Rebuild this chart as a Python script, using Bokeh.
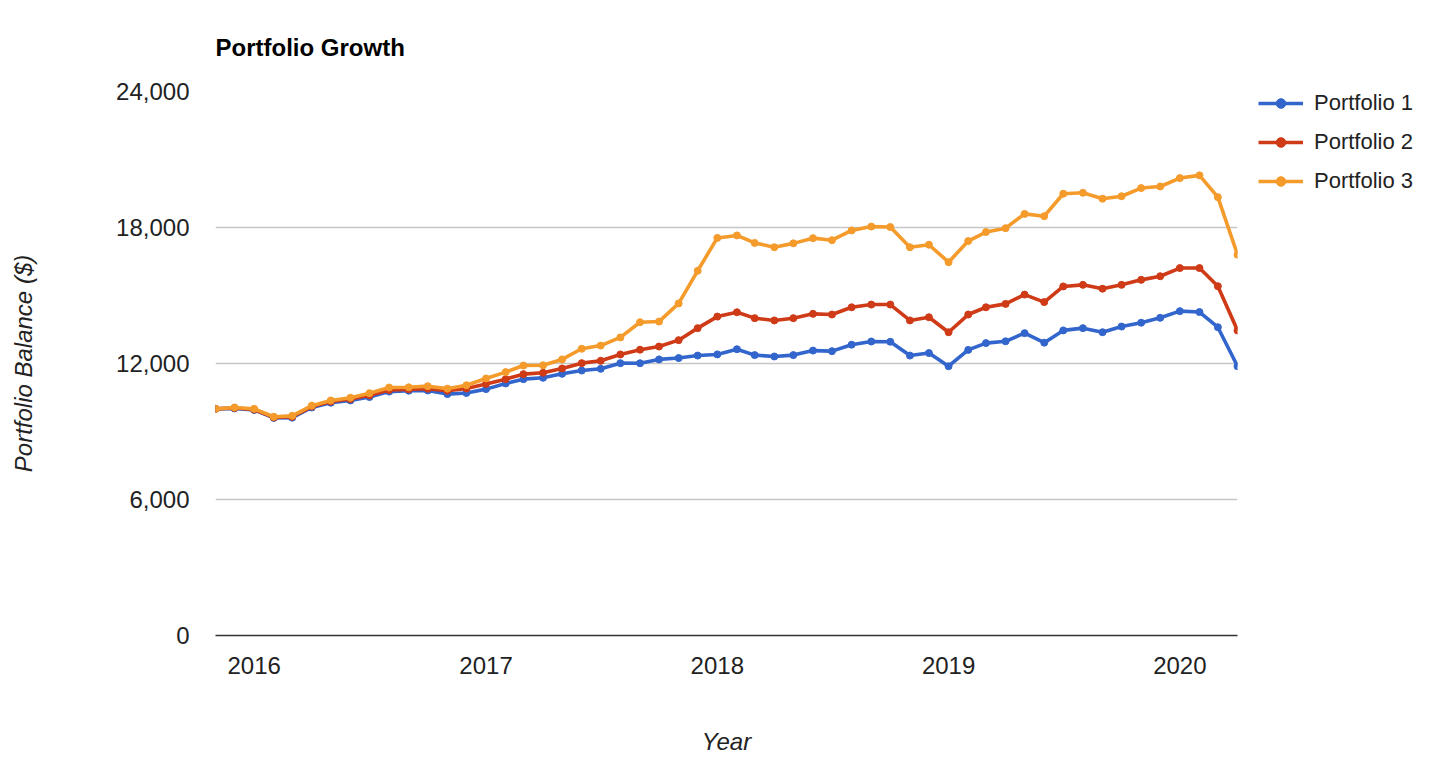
import pandas as pd
from bokeh.plotting import figure
from bokeh.models import (Range1d, FixedTicker, DatetimeTickFormatter, Legend, LegendItem,
                          NumeralTickFormatter)
from bokeh.embed import file_html
from bokeh.resources import INLINE

# ---- data -------------------------------------------------------------
months = pd.date_range(start="2015-11-01", periods=54, freq="MS")

portfolio_1 = [10000, 10020, 9950, 9600, 9610, 10060, 10270, 10370, 10520, 10760,
               10800, 10810, 10650, 10700, 10870, 11120, 11310, 11370, 11545, 11690,
               11765, 12015, 12010, 12180, 12240, 12350, 12400, 12630, 12370, 12310,
               12370, 12570, 12545, 12830, 12970, 12960, 12350, 12460, 11880, 12600,
               12900, 12980, 13340, 12920, 13460, 13560, 13380, 13630, 13800, 14015,
               14310, 14270, 13600, 11880]
portfolio_2 = [10000, 10040, 9970, 9620, 9650, 10100, 10320, 10430, 10600, 10830,
               10860, 10890, 10800, 10900, 11100, 11310, 11530, 11590, 11780, 12015,
               12120, 12400, 12610, 12750, 13030, 13560, 14070, 14260, 14000, 13900,
               14000, 14190, 14160, 14480, 14600, 14600, 13900, 14040, 13380, 14160,
               14480, 14630, 15040, 14710, 15400, 15470, 15300, 15470, 15690, 15850,
               16210, 16210, 15410, 13460]
portfolio_3 = [10000, 10060, 10000, 9650, 9690, 10140, 10370, 10490, 10690, 10940,
               10950, 11000, 10890, 11040, 11340, 11620, 11910, 11920, 12180, 12650,
               12790, 13150, 13820, 13850, 14650, 16090, 17540, 17650, 17320, 17130,
               17300, 17530, 17440, 17870, 18040, 18020, 17130, 17240, 16470, 17400,
               17800, 17970, 18600, 18500, 19490, 19530, 19270, 19380, 19740, 19810,
               20180, 20300, 19340, 16800]

series_names = ["Portfolio 1", "Portfolio 2", "Portfolio 3"]
series_values = [portfolio_1, portfolio_2, portfolio_3]
series_colors = ["#3366cc", "#cf3a17", "#f49b2c"]

year_ticks = ["2016-01-01", "2017-01-01", "2018-01-01", "2019-01-01", "2020-01-01"]
y_ticks = [0, 6000, 12000, 18000, 24000]

FONT = "Liberation Sans"

# ---- figure -----------------------------------------------------------
p = figure(frame_width=1022, frame_height=544, x_axis_type="datetime",
           output_backend="svg", toolbar_location=None,
           x_range=Range1d(months[0], months[-1]), y_range=Range1d(0, 24000),
           min_border_left=215, min_border_right=200, min_border_top=91,
           min_border_bottom=118, title="Portfolio Growth")
p.outline_line_color = None
p.background_fill_color = "white"

p.title.text_font = FONT
p.title.text_font_size = "24px"
p.title.text_font_style = "bold"
p.title.text_color = "#000000"
p.title.align = "left"
p.title.vertical_align = "top"
p.title.standoff = 57

# x axis
xt = [pd.Timestamp(t).value / 1e6 for t in year_ticks]
p.xaxis.ticker = FixedTicker(ticks=xt)
p.xaxis.formatter = DatetimeTickFormatter(years="%Y", months="%Y", days="%Y",
                                          hours="%Y", minutes="%Y", seconds="%Y",
                                          milliseconds="%Y", microseconds="%Y")
p.xaxis.axis_line_color = "#333333"
p.xaxis.axis_line_width = 1.6
p.xaxis.major_tick_line_color = None
p.xaxis.minor_tick_line_color = None
p.xaxis.major_label_text_font = FONT
p.xaxis.major_label_text_font_size = "24px"
p.xaxis.major_label_text_color = "#222222"
p.xaxis.major_label_standoff = 15
p.xaxis.axis_label = "Year"
p.xaxis.axis_label_text_font = FONT
p.xaxis.axis_label_text_font_size = "24px"
p.xaxis.axis_label_text_font_style = "italic"
p.xaxis.axis_label_text_color = "#222222"
p.xaxis.axis_label_standoff = 51

# y axis
p.yaxis.ticker = FixedTicker(ticks=y_ticks)
p.yaxis.formatter = NumeralTickFormatter(format="0,0")
p.yaxis.axis_line_color = None
p.yaxis.major_tick_line_color = None
p.yaxis.minor_tick_line_color = None
p.yaxis.major_label_text_font = FONT
p.yaxis.major_label_text_font_size = "24px"
p.yaxis.major_label_text_color = "#222222"
p.yaxis.major_label_standoff = 20
p.yaxis.axis_label = "Portfolio Balance ($)"
p.yaxis.axis_label_text_font = FONT
p.yaxis.axis_label_text_font_size = "24px"
p.yaxis.axis_label_text_font_style = "italic"
p.yaxis.axis_label_text_color = "#222222"
p.yaxis.axis_label_standoff = 76

p.xgrid.grid_line_color = None
p.ygrid.ticker = FixedTicker(ticks=y_ticks)
p.ygrid.grid_line_color = "#c6c6c6"
p.ygrid.grid_line_width = 1.4

# ---- series -----------------------------------------------------------
items = []
for name, vals, col in zip(series_names, series_values, series_colors):
    lr = p.line(months, vals, line_color=col, line_width=3.6)
    sr = p.scatter(months, vals, size=7, fill_color=col, line_color=col)
    items.append(LegendItem(label=name, renderers=[lr, sr]))

legend = Legend(items=items, location=(21, 441), orientation="vertical",
                glyph_width=45, glyph_height=24, label_height=24, spacing=13,
                label_standoff=11, padding=0, margin=0,
                border_line_color=None, background_fill_alpha=0,
                label_text_font=FONT, label_text_font_size="22px",
                label_text_color="#222222")
p.add_layout(legend, "right")

open("out.html", "w").write(file_html(p, INLINE))
